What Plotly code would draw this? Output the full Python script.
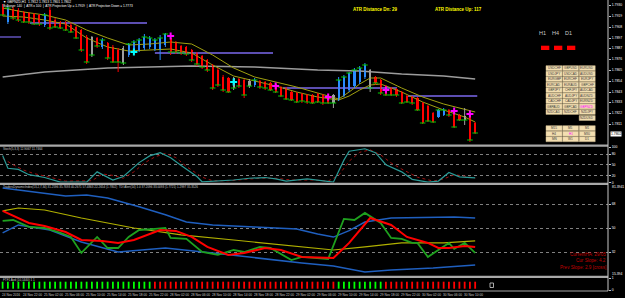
import plotly.graph_objects as go

W, H = 625, 298
MR, MB = 17, 7
PW, PH = W - MR, H - MB  # plot area 608 x 291


def fx(x):
    return x / PW


def fy(y):
    return 1 - y / PH


# ---------------- data ----------------
symbol = "GBPNZD,H1"
bar_color = ["R", "B", "R", "R", "R", "R", "R", "R", "B", "R",
             "R", "R", "R", "R", "R", "R", "R", "G", "R", "B",
             "R", "R", "R", "G", "B", "B", "B", "B", "B", "B",
             "B", "B", "R", "R", "R", "R", "R", "R", "R", "R",
             "R", "R", "R", "R", "G", "R", "R", "G", "B", "R",
             "R", "R", "R", "R", "R", "R", "R", "R", "R", "R",
             "R", "R", "R", "G", "B", "B", "B", "B", "B", "B",
             "G", "R", "R", "R", "R", "R", "R", "R", "R", "R",
             "R", "R", "R", "B", "B", "R", "R", "R", "G", "R",
             "R"]
bar_open = [1.7928, 1.7913, 1.7926, 1.7925, 1.7923, 1.7922, 1.7921, 1.7920, 1.7910, 1.7925,
            1.7915, 1.7913, 1.7913, 1.7910, 1.7908, 1.7905, 1.7898, 1.7898, 1.7897, 1.7888,
            1.7892, 1.7888, 1.7885, 1.7887, 1.7880, 1.7882, 1.7884, 1.7887, 1.7888, 1.7886,
            1.7885, 1.7890, 1.7897, 1.7893, 1.7889, 1.7888, 1.7885, 1.7882, 1.7879, 1.7875,
            1.7870, 1.7865, 1.7858, 1.7857, 1.7857, 1.7856, 1.7855, 1.7854, 1.7850, 1.7854,
            1.7853, 1.7852, 1.7851, 1.7848, 1.7847, 1.7843, 1.7842, 1.7841, 1.7840, 1.7840,
            1.7841, 1.7840, 1.7839, 1.7840, 1.7835, 1.7839, 1.7845, 1.7849, 1.7853, 1.7858,
            1.7865, 1.7858, 1.7855, 1.7849, 1.7847, 1.7846, 1.7843, 1.7839, 1.7838, 1.7837,
            1.7832, 1.7829, 1.7822, 1.7818, 1.7820, 1.7825, 1.7824, 1.7820, 1.7819, 1.7820,
            1.7812]
bar_close = [1.7920, 1.7927, 1.7917, 1.7915, 1.7913, 1.7913, 1.7911, 1.7911, 1.7920, 1.7907,
             1.7908, 1.7907, 1.7905, 1.7903, 1.7897, 1.7885, 1.7873, 1.7880, 1.7889, 1.7895,
             1.7877, 1.7873, 1.7873, 1.7872, 1.7891, 1.7893, 1.7895, 1.7898, 1.7897, 1.7895,
             1.7897, 1.7901, 1.7883, 1.7883, 1.7882, 1.7881, 1.7875, 1.7871, 1.7868, 1.7865,
             1.7847, 1.7850, 1.7845, 1.7843, 1.7847, 1.7849, 1.7840, 1.7849, 1.7855, 1.7848,
             1.7847, 1.7845, 1.7843, 1.7839, 1.7836, 1.7835, 1.7833, 1.7834, 1.7833, 1.7832,
             1.7833, 1.7832, 1.7832, 1.7832, 1.7855, 1.7858, 1.7862, 1.7865, 1.7867, 1.7870,
             1.7847, 1.7852, 1.7842, 1.7840, 1.7840, 1.7840, 1.7832, 1.7833, 1.7832, 1.7825,
             1.7812, 1.7814, 1.7813, 1.7825, 1.7825, 1.7820, 1.7808, 1.7815, 1.7815, 1.7795,
             1.7802]
bar_high = [1.7931, 1.7929, 1.7928, 1.7927, 1.7924, 1.7923, 1.7922, 1.7921, 1.7922, 1.7928,
            1.7917, 1.7914, 1.7914, 1.7912, 1.7909, 1.7906, 1.7900, 1.7899, 1.7898, 1.7897,
            1.7893, 1.7890, 1.7887, 1.7889, 1.7892, 1.7895, 1.7897, 1.7901, 1.7899, 1.7897,
            1.7900, 1.7902, 1.7899, 1.7894, 1.7890, 1.7889, 1.7886, 1.7883, 1.7880, 1.7876,
            1.7871, 1.7867, 1.7860, 1.7858, 1.7858, 1.7857, 1.7856, 1.7856, 1.7857, 1.7855,
            1.7854, 1.7853, 1.7852, 1.7849, 1.7848, 1.7844, 1.7843, 1.7842, 1.7841, 1.7841,
            1.7842, 1.7841, 1.7840, 1.7841, 1.7858, 1.7860, 1.7863, 1.7867, 1.7869, 1.7872,
            1.7866, 1.7859, 1.7856, 1.7850, 1.7848, 1.7847, 1.7844, 1.7840, 1.7839, 1.7838,
            1.7833, 1.7830, 1.7823, 1.7826, 1.7827, 1.7826, 1.7825, 1.7821, 1.7827, 1.7821,
            1.7813]
bar_low = [1.7919, 1.7911, 1.7915, 1.7913, 1.7912, 1.7911, 1.7910, 1.7909, 1.7908, 1.7905,
           1.7907, 1.7906, 1.7904, 1.7902, 1.7896, 1.7883, 1.7871, 1.7878, 1.7887, 1.7886,
           1.7875, 1.7872, 1.7863, 1.7870, 1.7878, 1.7881, 1.7883, 1.7885, 1.7886, 1.7884,
           1.7875, 1.7888, 1.7880, 1.7881, 1.7880, 1.7879, 1.7873, 1.7869, 1.7866, 1.7863,
           1.7845, 1.7848, 1.7843, 1.7842, 1.7845, 1.7847, 1.7837, 1.7847, 1.7848, 1.7846,
           1.7845, 1.7844, 1.7842, 1.7838, 1.7835, 1.7834, 1.7832, 1.7832, 1.7831, 1.7831,
           1.7832, 1.7830, 1.7831, 1.7827, 1.7834, 1.7838, 1.7843, 1.7847, 1.7851, 1.7856,
           1.7843, 1.7850, 1.7840, 1.7839, 1.7839, 1.7838, 1.7831, 1.7832, 1.7830, 1.7824,
           1.7811, 1.7813, 1.7812, 1.7817, 1.7819, 1.7818, 1.7807, 1.7814, 1.7810, 1.7793,
           1.7801]

band_x = [0, 4, 8, 12, 16, 20, 24, 28, 32, 36, 40, 44, 48, 52, 56, 60, 64, 66, 68, 70, 72, 76, 80, 84, 88, 90]
band_upper = [1.7927, 1.7923, 1.7920, 1.7915, 1.7905, 1.7897, 1.7890, 1.7891, 1.7893, 1.7891, 1.7880, 1.7867, 1.7858,
              1.7853, 1.7848, 1.7842, 1.7836, 1.7843, 1.7851, 1.7857, 1.7857, 1.7847, 1.7838, 1.7831, 1.7826, 1.7823]
band_lower = [1.7919, 1.7918, 1.7915, 1.7911, 1.7897, 1.7888, 1.7884, 1.7885, 1.7886, 1.7882, 1.7870, 1.7859, 1.7854,
              1.7849, 1.7843, 1.7838, 1.7835, 1.7839, 1.7845, 1.7850, 1.7851, 1.7843, 1.7833, 1.7825, 1.7818, 1.7813]

ma_x = [0, 8, 20, 28, 36, 48, 60, 68, 76, 84, 90]
ma_slow = [1.7858, 1.7863, 1.7867, 1.7868, 1.7869, 1.7868, 1.7865, 1.7864, 1.7861, 1.7859, 1.7856]

level_price = [1.7898, 1.7912, 1.7882, 1.7847, 1.7839]
level_start = [-0.5, 5.2, 29.0, 53.4, 77.2]
level_end = [3.5, 27.5, 51.5, 75.1, 90.4]

magenta_x = [32, 52, 62, 73, 86, 89]
magenta_y = [1.7899, 1.7849, 1.7838, 1.7845, 1.7824, 1.7821]
cyan_x = [25, 44]
cyan_y = [1.7883, 1.7853]

price_ticks = [1.7930, 1.7919, 1.7908, 1.7897, 1.7887, 1.7876, 1.7865, 1.7854, 1.7843, 1.7833, 1.7822, 1.7811, 1.7790]
last_price = 1.7802

stoch_x = [0, 1, 3, 5, 8, 11, 16, 18, 21, 23, 26, 28, 30, 32, 34, 37, 38, 41, 44, 47,
           50, 52, 54, 58, 61, 63, 65, 66, 69, 71, 73, 76, 78, 81, 83, 85, 87, 89, 90]
stoch_main = [76, 40, 37, 22, 14, 1, 1, 30, 7, 17, 56, 75, 84, 70, 48, 17, 2, 4, 7, 12,
              14, 10, 4, 10, 4, 1, 63, 88, 95, 84, 50, 30, 9, 1, 4, 28, 16, 13, 12.9]
sig_x = [0, 2, 4, 6, 9, 12, 17, 19, 21, 23, 25, 27, 29, 31, 33, 35, 38, 40, 43, 46,
         49, 52, 55, 59, 62, 64, 66, 68, 70, 72, 74, 76, 79, 82, 84, 86, 88, 90]
stoch_signal = [68, 50, 35, 25, 15, 4, 5, 24, 20, 12, 30, 55, 72, 82, 70, 45, 15, 5, 5, 8,
                12, 12, 7, 7, 4, 20, 60, 85, 92, 78, 55, 38, 15, 4, 10, 22, 18, 11.7]

tdi_up_x = [0, 6, 12, 16, 20, 26, 31, 35, 40, 48, 56, 60, 63, 66, 69, 74, 82, 86, 90]
tdi_up = [80, 77, 74, 74.7, 72.5, 66, 60, 54.5, 52.3, 50.7, 49.3, 45.5, 43.2, 48, 54.5, 57.5, 58.3, 58.3, 57.5]
tdi_lo_x = [0, 3, 9, 15, 22, 31, 40, 48, 57, 63, 69, 74, 82, 90]
tdi_lo = [46.3, 52.3, 48.5, 39.5, 32, 35, 31.3, 27.5, 23.7, 21.5, 17, 18.5, 20, 22.3]
tdi_mb_x = [0, 3, 8, 15, 25, 34, 44, 53, 57, 63, 69, 76, 84, 90]
tdi_mb = [62.8, 65, 63.5, 57.5, 50, 44.8, 41, 37.3, 35.8, 33.5, 35.8, 38.8, 38.8, 40.3]
tdi_sig_x = [0, 5, 8, 12, 15, 19, 22, 25, 30, 33, 36, 39, 43, 46, 50, 53, 57, 63, 66, 70,
             74, 77, 81, 83, 85, 88, 90]
tdi_sig = [62.8, 53.8, 51.5, 47, 41, 40.3, 38.8, 41, 48.5, 47.8, 43.3, 35.8, 29.8, 31.3, 35, 33.5, 28.3, 27.5,
           38.8, 57.5, 52.3, 43.3, 38.8, 35, 35, 36.5, 35.8]
tdi_rsi_x = [0, 2, 5, 8, 11, 13, 15, 18, 20, 22, 24, 26, 29, 31, 32, 35, 38, 41, 44, 46,
             49, 51, 55, 57, 62, 65, 67, 69, 72, 74, 76, 78, 79, 81, 85, 86, 88, 90]
tdi_rsi = [55.3, 56, 50.8, 50, 46.3, 43.3, 31.3, 43.3, 35, 35, 43.3, 48.5, 49.3, 50, 42.5, 41.8, 32, 29.8, 33.5, 32,
           35.8, 35, 26, 28.3, 26.8, 56.8, 56, 61.3, 53.8, 42.5, 41.8, 38.8, 38.8, 28.3, 38.8, 34.3, 38.8, 31.3]
tdi_levels = [32, 50, 68]

dot_signal = ("GGGGGGGGGG" "GGGGGGGGGG" "GGGGGGGGGR" "RRRRRRRRRR" "RRRRRRRRRR"
              "RRRRRRRRRR" "RRRRGGGGGG" "GGGRRRRRRR" "RRRRRRRRRR" "R")
dot_level = 0.4

time_labels = ["24 Nov 2016", "24 Nov 22:00", "25 Nov 02:00", "25 Nov 06:00", "25 Nov 10:00", "25 Nov 14:00",
               "25 Nov 18:00", "25 Nov 22:00", "28 Nov 02:00", "28 Nov 06:00", "28 Nov 10:00", "28 Nov 14:00",
               "28 Nov 18:00", "28 Nov 22:00", "29 Nov 02:00", "29 Nov 06:00", "29 Nov 10:00", "29 Nov 14:00",
               "29 Nov 18:00", "29 Nov 22:00", "30 Nov 02:00", "30 Nov 06:00", "30 Nov 10:00"]
time_label_bars = [0, 4, 8, 12, 16, 20, 24, 28, 32, 36, 40, 44, 48, 52, 56, 60, 64, 68, 72, 76, 80, 84, 88]

pair_rows = [["USDCHF", "GBPUSD", "EURUSD"], ["USDJPY", "USDCAD", "AUDUSD"], ["EURGBP", "EURCHF", "EURJPY"],
             ["EURCAD", "EURAUD", "GBPCHF"], ["GBPJPY", "CHFJPY", "AUDCAD"], ["AUDCHF", "AUDJPY", "AUDNZD"],
             ["CADCHF", "CADJPY", "EURNZD"], ["GBPAUD", "GBPCAD", "GBPNZD"], ["NZDCAD", "NZDCHF", "NZDJPY"],
             ["", "", "NZDUSD"]]
tf_rows = [["M15", "M5", "M1"], ["H4", "H1", "M30"], ["MN", "W1", "D1"]]
current_pair, current_tf = "GBPNZD", "H1"

atr_dn, atr_up = 29, 117
ha_texts = ["CurrentHA: 29/05", "Cur Slope: 4.2", "Prev Slope: 2.9 [cross]"]

# ---------------- figure ----------------
FONT = "Liberation Sans"
RED, BLUE, GRAY = "#ff0000", "#2a8cff", "#a0a0a0"
cmap = {"R": RED, "B": BLUE, "G": GRAY}
idx = list(range(len(bar_open)))

fig = go.Figure()

# horizontal levels
for k, (p, s, e) in enumerate(zip(level_price, level_start, level_end)):
    fig.add_trace(go.Scatter(x=[s, e], y=[p, p], mode="lines", yaxis="y",
                             line=dict(color="#483d8b" if k == 0 else "#7b68ee", width=2 if k == 0 else 1.5)))

fig.add_trace(go.Scatter(x=ma_x, y=ma_slow, mode="lines", yaxis="y", line=dict(color="#9c9c9c", width=1.6)))
fig.add_trace(go.Scatter(x=band_x, y=band_upper, mode="lines", yaxis="y", line=dict(color="#a0a010", width=1)))
fig.add_trace(go.Scatter(x=band_x, y=band_lower, mode="lines", yaxis="y", line=dict(color="#a0a010", width=1)))

for key in "RBG":
    xs = [i for i in idx if bar_color[i] == key]
    wx, wy = [], []
    for i in xs:
        wx += [i, i, None]
        wy += [bar_high[i], bar_low[i], None]
    fig.add_trace(go.Scatter(x=wx, y=wy, mode="lines", yaxis="y", line=dict(color=cmap[key], width=1)))
    fig.add_trace(go.Bar(x=xs, base=[min(bar_open[i], bar_close[i]) for i in xs],
                         y=[abs(bar_close[i] - bar_open[i]) for i in xs], width=0.42, yaxis="y",
                         marker=dict(color=cmap[key], line=dict(width=0))))

fig.add_trace(go.Scatter(x=idx, y=bar_close, mode="markers", yaxis="y",
                         marker=dict(symbol="line-ew", size=4, line=dict(color="#00d000", width=1))))
fig.add_trace(go.Scatter(x=magenta_x, y=magenta_y, mode="markers", yaxis="y",
                         marker=dict(symbol="cross-thin", size=5, line=dict(color="#ff00ff", width=2))))
fig.add_trace(go.Scatter(x=cyan_x, y=cyan_y, mode="markers", yaxis="y",
                         marker=dict(symbol="cross-thin", size=5, line=dict(color="#00ffff", width=2))))

# stochastic
fig.add_trace(go.Scatter(x=sig_x, y=stoch_signal, mode="lines", yaxis="y2",
                         line=dict(color="#a01010", width=1, dash="dot")))
fig.add_trace(go.Scatter(x=stoch_x, y=stoch_main, mode="lines", yaxis="y2", line=dict(color="#2a9a96", width=1.2)))

# TDI
fig.add_trace(go.Scatter(x=tdi_up_x, y=tdi_up, mode="lines", yaxis="y3", line=dict(color="#1f5fbf", width=1.5)))
fig.add_trace(go.Scatter(x=tdi_lo_x, y=tdi_lo, mode="lines", yaxis="y3", line=dict(color="#1f5fbf", width=1.5)))
fig.add_trace(go.Scatter(x=tdi_mb_x, y=tdi_mb, mode="lines", yaxis="y3", line=dict(color="#b0b000", width=1.2)))
fig.add_trace(go.Scatter(x=tdi_rsi_x, y=tdi_rsi, mode="lines", yaxis="y3", line=dict(color="#1ea01e", width=1.8)))
fig.add_trace(go.Scatter(x=tdi_sig_x, y=tdi_sig, mode="lines", yaxis="y3", line=dict(color="#ff0000", width=2)))

# dots
for key, col in (("G", "#00ff00"), ("R", "#ff0000")):
    xs = [i for i in idx if dot_signal[i] == key]
    fig.add_trace(go.Scatter(x=xs, y=[dot_level] * len(xs), mode="markers", yaxis="y4",
                             marker=dict(symbol="line-ns", size=5, line=dict(color=col, width=1.8))))

axis_common = dict(side="right", anchor="x", showgrid=False, zeroline=False, ticks="outside", ticklen=2,
                   tickcolor="#c0c0c0", tickfont=dict(family=FONT, size=3.4, color="white"), showline=False,
                   fixedrange=True)

fig.update_layout(
    width=W, height=H, margin=dict(l=0, r=MR, t=0, b=MB, autoexpand=False),
    paper_bgcolor="black", plot_bgcolor="black", showlegend=False, barmode="overlay", bargap=0,
    xaxis=dict(range=[-0.5, 115.3], showgrid=False, zeroline=False, showticklabels=False, ticks="",
               domain=[0, 1], anchor="y4", fixedrange=True),
    yaxis=dict(domain=[fy(144.5), 1], range=[1.77905, 1.7935], tickvals=price_ticks,
               ticktext=[f"{v:.4f}" for v in price_ticks], **axis_common),
    yaxis2=dict(domain=[fy(182.5), fy(147)], range=[0, 100], tickvals=[0, 20, 50, 80, 100],
                **{**axis_common, "showgrid": True}, gridcolor="#808080", griddash="dot", gridwidth=0.8),
    yaxis3=dict(domain=[fy(275.5), fy(185)], range=[14.375, 82.25], tickvals=tdi_levels,
                **{**axis_common, "showgrid": True}, gridcolor="#808080", griddash="dot", gridwidth=0.8),
    yaxis4=dict(domain=[fy(290), fy(278)], range=[0, 1], tickvals=[0, 1], **axis_common),
)

shapes = []
for ys in (145.6, 183.8, 276.8):
    shapes.append(dict(type="line", xref="paper", yref="paper", x0=0, x1=1, y0=fy(ys), y1=fy(ys),
                       line=dict(color="#a8a8a8", width=2.2)))
shapes.append(dict(type="line", xref="paper", yref="paper", x0=0, x1=1, y0=fy(291), y1=fy(291),
                   line=dict(color="#a8a8a8", width=1.2)))
shapes.append(dict(type="line", xref="paper", yref="paper", x0=1, x1=1, y0=fy(291), y1=1,
                   line=dict(color="#c8c8c8", width=1)))
# timeframe trend boxes
for x0 in (541, 554, 567):
    shapes.append(dict(type="rect", xref="paper", yref="paper", x0=fx(x0), x1=fx(x0 + 8.3), y0=fy(50), y1=fy(45.7),
                       fillcolor="#ff0000", line=dict(width=0)))
# small icon in the dots panel
shapes.append(dict(type="rect", xref="paper", yref="paper", x0=fx(490), x1=fx(493.5), y0=fy(287.5), y1=fy(283),
                   line=dict(color="#d0d0d0", width=0.8)))

annotations = []


def txt(x, y, s, size=3.3, color="white", xanchor="left", bold=False, bg=None):
    d = dict(xref="paper", yref="paper", x=fx(x), y=fy(y), text=f"<b>{s}</b>" if bold else s, showarrow=False,
             xanchor=xanchor, yanchor="middle", font=dict(family=FONT, size=size, color=color), borderpad=0)
    if bg:
        d["bgcolor"] = bg
    annotations.append(d)


col_x = [546.0, 562.6, 579.2]
cell_w = 16.0
row_h = 5.47
for r, row in enumerate(pair_rows):
    y0 = 65.7 + r * row_h + (0.6 if r == 9 else 0)
    for c, name in enumerate(row):
        if not name:
            continue
        shapes.append(dict(type="rect", xref="paper", yref="paper", x0=fx(col_x[c]), x1=fx(col_x[c] + cell_w),
                           y0=fy(y0 + row_h - 0.5), y1=fy(y0), fillcolor="#f3deb0",
                           line=dict(color="#c9b78c", width=0.5)))
        txt(col_x[c] + cell_w / 2, y0 + row_h / 2 - 0.2, name, size=3.1,
            color="#ff00ff" if name == current_pair else "#3a3a3a", xanchor="center")
for r, row in enumerate(tf_rows):
    y0 = 125.7 + r * 5.5
    for c, name in enumerate(row):
        shapes.append(dict(type="rect", xref="paper", yref="paper", x0=fx(col_x[c]), x1=fx(col_x[c] + cell_w),
                           y0=fy(y0 + 5.0), y1=fy(y0), fillcolor="#f3deb0",
                           line=dict(color="#c9b78c", width=0.5)))
        txt(col_x[c] + cell_w / 2, y0 + 2.5, name, size=3.1,
            color="#ff00ff" if name == current_tf else "#3a3a3a", xanchor="center")

# header texts
txt(2, 2.2, f"▼ {symbol}  1.7812 1.7813 1.7801 {last_price:.4f}", size=3.3)
txt(2, 6.3, "Bullseye: 140  |  ATR x 100  |  ATR Projection Up = 1.7919  |  ATR Projection Down = 1.7773", size=3.2)
txt(375, 10, f"ATR Distance Dn: {atr_dn}", size=4.5, color="#ffff00", xanchor="center", bold=True)
txt(458.5, 10, f"ATR Distance Up: {atr_up}", size=4.5, color="#ffff00", xanchor="center", bold=True)
for x, s in ((542.3, "H1"), (555.7, "H4"), (568.3, "D1")):
    txt(x, 33.3, s, size=5.5, color="#c8c8c8", xanchor="center")

txt(2, 149.3, "Stoch(5,3,3) 12.9067 11.7464", size=3.0, color="#c8c8c8")
txt(2, 187.3, "TradersDynamicIndex(13,2,7,34) 31.2596 35.7693 40.2671 57.4863 22.2654 (1.7802)  "
              "TDI Alert(14) 1.0 37.2096 33.0093 (1.7721) 1.2997 35.3526", size=3.0, color="#c8c8c8")
txt(2, 280.2, "FTF1 Avd (10,1440) 1 1", size=3.0, color="#c8c8c8")

for k, s in enumerate(ha_texts):
    txt(607, 254 + k * 6.5, s, size=4.6, color="#c00000", xanchor="right")

# axis extremes of TDI panel and current price box
txt(611, 187, "81.3941", size=3.4)
txt(611, 274, "15.394", size=3.4)
txt(609.5, 134, f"{last_price:.4f}", size=3.4, color="black", bg="white")

# time axis labels
for b, s in zip(time_label_bars, time_labels):
    annotations.append(dict(xref="x", yref="paper", x=b - 0.5, y=fy(294.5), text=s, showarrow=False,
                            xanchor="left", yanchor="middle", font=dict(family=FONT, size=3.2, color="#c8c8c8")))

fig.update_layout(shapes=shapes, annotations=annotations)
fig.write_html("out.html")
